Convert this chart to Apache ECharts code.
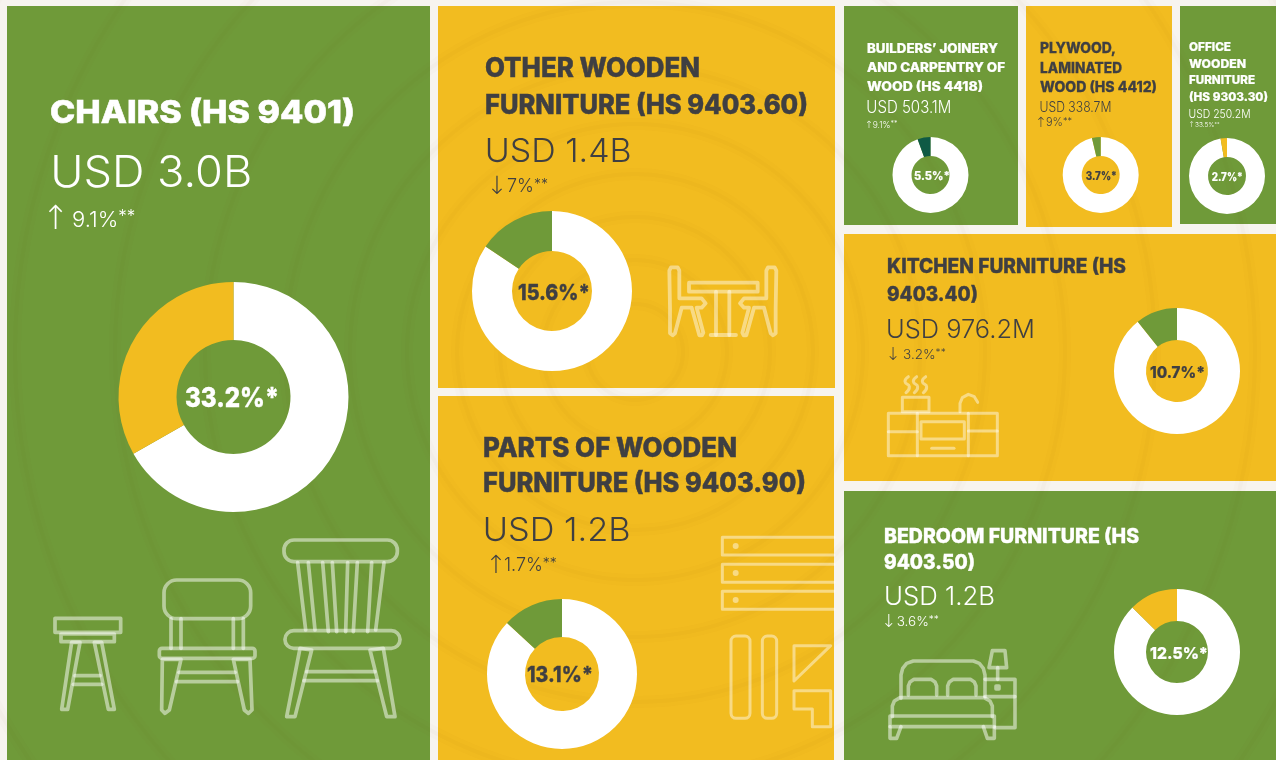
<!DOCTYPE html>
<html><head><meta charset="utf-8">
<style>html,body{margin:0;padding:0;background:#f7f4ef}#c{width:1276px;height:760px}</style>
<script src="https://cdn.jsdelivr.net/npm/echarts@6/dist/echarts.min.js"></script>
</head><body><div id="c"></div>
<script>
// ---- data ----
const products = ['Chairs','Other wooden furniture','Parts of wooden furniture','Builders joinery','Plywood','Office wooden furniture','Kitchen furniture','Bedroom furniture'];
const titleLines = [
  ['CHAIRS (HS 9401)'],
  ['OTHER WOODEN','FURNITURE (HS 9403.60)'],
  ['PARTS OF WOODEN','FURNITURE (HS 9403.90)'],
  ['BUILDERS’ JOINERY','AND CARPENTRY OF','WOOD (HS 4418)'],
  ['PLYWOOD,','LAMINATED','WOOD (HS 4412)'],
  ['OFFICE','WOODEN','FURNITURE','(HS 9303.30)'],
  ['KITCHEN FURNITURE (HS','9403.40)'],
  ['BEDROOM FURNITURE (HS','9403.50)']
];
const valueLabels = ['USD 3.0B','USD 1.4B','USD 1.2B','USD 503.1M','USD 338.7M','USD 250.2M','USD 976.2M','USD 1.2B'];
const changeArrows = ['↑','↓','↑','↑','↑','↑','↓','↓'];
const changeLabels = ['9.1%','7%','1.7%','9.1%','9%','33.5%','3.2%','3.6%'];
const sharePercent = [33.2,15.6,13.1,5.5,3.7,2.7,10.7,12.5];

// ---- colours ----
const GREEN='#6f9a39', YELLOW='#f2bc20', DARK='#3f3f42', TEAL='#0f5a45', PAPER='#f7f4ef';
const panelColor=[GREEN,YELLOW,YELLOW,GREEN,YELLOW,GREEN,YELLOW,GREEN];
const sliceColor=[YELLOW,GREEN,GREEN,TEAL,GREEN,YELLOW,GREEN,YELLOW];

// ---- layout ----
const panels=[[7,6,423,754],[438,6,397,382],[438,396,396,364],[844,6,174,219],[1026,6,146,221],[1180,6,96,218],[844,234,432,247],[844,491,432,269]];
const donuts=[[233.5,397,115,57],[552,291,80,40],[562,674,75,37],[930.5,175,38,19],[1100.7,175,38,19],[1227,176,38,19],[1177,371,63,31],[1177,652,63,31]];
const labelSize=[27,22,21,11.5,11.5,11.5,16.5,16.5];
const labelX=[185,518,527,914,1085.7,1211.7,1150,1150];
const labelW=[94,72,66,36,31,31,55,58];
const textPos=[
 {x:50,ty:[111],tw:[305],ts:31,vx:52,vy:171,vw:202,vs:44,cx:39,cw:33,cy:219,as:33,cs:22,ss:17},
 {x:485,ty:[67,104],tw:[215,323],ts:26.5,vx:486,vy:149,vw:147,vs:33,cx:487,cw:20,cy:186,as:25,cs:18,ss:14},
 {x:483,ty:[447,482],tw:[254,323],ts:26.5,vx:484,vy:528,vw:148,vs:33,cx:488,cw:16,cy:565,as:25,cs:18,ss:14},
 {x:867,ty:[47,66,85],tw:[131,138,116],ts:13,vx:867,vy:106,vw:85,vs:17,cx:865.3,cw:7.4,cy:124,as:10,cs:8.5,ss:7},
 {x:1040,ty:[47,67,86],tw:[76,82,117],ts:14,vx:1040,vy:106,vw:72,vs:14,cx:1036,cw:10,cy:122,as:14,cs:11,ss:9},
 {x:1189,ty:[46,63,79,96],tw:[42,57,66,79],ts:11.8,vx:1189,vy:113,vw:62,vs:12,cx:1188.4,cw:6.6,cy:124,as:8,cs:6.5,ss:5},
 {x:887,ty:[265,293],tw:[239,91],ts:19.5,vx:887,vy:328,vw:149,vs:25.5,cx:883,cw:20,cy:354,as:18,cs:13.5,ss:10},
 {x:884,ty:[535,561],tw:[255,91],ts:19.5,vx:885,vy:595,vw:111,vs:25.5,cx:880.7,cw:16,cy:621,as:18,cs:13.5,ss:10}
];
const ringRadius=[48,92,135,178,228,285,350,430,520,620,730];
const ringCentre=[635,352];

const TITLE_FONT='Inter', LIGHT_FONT='Inter';
const meter=document.createElement('canvas').getContext('2d');
const fitScale=(text,font,target)=>{meter.font=font;return target/meter.measureText(text).width;};

const elements=[];
elements.push({type:'rect',shape:{x:0,y:0,width:1276,height:760},style:{fill:PAPER}});
panels.forEach((p,i)=>elements.push({type:'rect',shape:{x:p[0],y:p[1],width:p[2],height:p[3]},style:{fill:panelColor[i]}}));
// wood-grain rings laid over the panels
ringRadius.forEach((r,i)=>{
  [[12,0.015],[4,0.018]].forEach(w=>elements.push({type:'circle',shape:{cx:ringCentre[0],cy:ringCentre[1],r:r},
    style:{fill:'none',stroke:'rgba(100,65,0,'+w[1]+')',lineWidth:w[0]}}));
});
// texts
products.forEach((name,i)=>{
  const t=textPos[i], col=panelColor[i]===GREEN?'#ffffff':DARK;
  const off=s=>1+0.05*s;
  titleLines[i].forEach((line,k)=>{
    const font=`800 ${t.ts}px ${TITLE_FONT}`;
    elements.push({type:'text',x:t.x,y:t.ty[k]+off(t.ts),scaleX:fitScale(line,font,t.tw[k]),
      style:{text:line,fill:col,font:font,stroke:col,lineWidth:t.ts*0.018,verticalAlign:'middle',align:'left'}});
  });
  const vfont=`300 ${t.vs}px ${LIGHT_FONT}`;
  elements.push({type:'text',x:t.vx-0.04*t.vs,y:t.vy+off(t.vs),scaleX:fitScale(valueLabels[i],vfont,t.vw),
    style:{text:valueLabels[i],fill:col,font:vfont,verticalAlign:'middle',align:'left'}});
  elements.push({type:'text',x:t.cx,y:t.cy+1,style:{text:`{a|${changeArrows[i]}}{b|${changeLabels[i]}}{c|**}`,fill:col,verticalAlign:'middle',align:'left',
    rich:{a:{fontFamily:'DejaVu Sans',fontWeight:200,fontSize:t.as,fill:col,width:t.cw,align:'center'},b:{fontFamily:LIGHT_FONT,fontWeight:300,fontSize:t.cs,fill:col},c:{fontFamily:LIGHT_FONT,fontWeight:300,fontSize:t.ss,fill:col,padding:[0,0,t.cs*0.25,0]}}}});
  // share label in the donut hole
  const lab=sharePercent[i]+'%*', lfont=`800 ${labelSize[i]}px ${TITLE_FONT}`;
  elements.push({type:'text',x:labelX[i],y:donuts[i][1]+off(labelSize[i]),scaleX:fitScale(lab,lfont,labelW[i]),
    style:{text:lab,fill:col,font:lfont,stroke:col,lineWidth:labelSize[i]*0.015,verticalAlign:'middle',align:'left'}});
});

// ---- icons, in 3x crop coordinates ----
function icon(ox,oy,alpha,width,list){
  const X=v=>ox+v/3, Y=v=>oy+v/3;
  const style=(fill)=>({fill:fill?'rgba(255,255,255,'+alpha+')':'none',stroke:fill?'none':'rgba(255,255,255,'+alpha+')',lineWidth:width,lineJoin:'round',lineCap:'round'});
  list.forEach(s=>{
    const k=s[0];
    if(k==='r')elements.push({type:'rect',shape:{x:X(s[1]),y:Y(s[2]),width:(s[3]-s[1])/3,height:(s[4]-s[2])/3,r:(s[5]||0)/3},style:style()});
    if(k==='p'||k==='g'){const pts=[];for(let j=1;j<s.length;j+=2)pts.push([X(s[j]),Y(s[j+1])]);
      elements.push({type:k==='p'?'polyline':'polygon',shape:{points:pts},style:style()});}
    if(k==='c')elements.push({type:'circle',shape:{cx:X(s[1]),cy:Y(s[2]),r:s[3]/3},style:style(true)});
    if(k==='s'){const pts=[];for(let j=1;j<s.length;j+=2)pts.push([X(s[j]),Y(s[j+1])]);
      elements.push({type:'polyline',shape:{points:pts,smooth:0.6},style:style()});}
  });
}
// chairs
icon(0,520,.5,3.7,[
 ['r',165,295,362,337],['r',183,342,343,365],
 ['g',215,367,185,568,203,568,240,367],['g',283,367,325,568,343,568,305,367],
 ['p',225,467,300,467],['p',220,493,305,493],
 ['r',492,180,752,296,38],['p',513,296,513,385],['p',543,296,543,385],['p',700,296,700,385],['p',730,296,730,385],
 ['r',478,385,765,415,8],
 ['g',487,418,485,570,495,580,508,570,543,418],['g',700,418,733,570,745,580,756,570,750,418],
 ['p',537,457,705,457],['p',530,485,712,485],
 ['r',852,60,1192,125,30],
 ['p',893,128,917,330],['p',925,128,945,330],['p',968,128,985,335],['p',997,128,1010,335],['p',1043,128,1037,335],['p',1072,128,1060,335],['p',1115,128,1103,335],['p',1152,128,1127,330],
 ['r',855,332,1200,385,26],
 ['g',900,385,860,590,885,590,935,390],['g',1110,390,1160,590,1185,590,1150,385],
 ['p',920,455,1125,455],['p',912,482,1132,482]
]);
// table and two chairs
const sideChair=(m)=>{const f=v=>m?497-v:v;return ['g',f(88),92,f(93),82,f(113),82,f(118),92,f(118),175,f(185),175,f(197),190,f(185),203,f(170),203,f(190),278,f(186),286,f(178),286,f(155),203,f(125),203,f(105),280,f(98),286,f(90),280,f(90),203];};
icon(640,240,.45,3.8,[sideChair(false),sideChair(true),['r',147,128,353,155],['p',228,155,228,285],['p',268,155,268,285],['p',212,285,288,285]]);
// parts
icon(700,520,.45,3,[
 ['p',402,52,67,52,67,105,402,105],['p',402,133,67,133,67,187,402,187],['p',402,214,67,214,67,268,402,268],
 ['c',107,78,9],['c',107,159,9],['c',107,240,9],
 ['r',93,348,150,595,15],['r',187,348,230,595,15],
 ['g',282,377,392,377,282,483],['g',282,512,392,512,392,620,337,620,337,567,282,567]
]);
// kitchen
icon(640,240,.45,3,[
 ['r',745,520,1072,647],['p',832,520,832,647],['p',985,520,985,647],
 ['p',745,575,832,575],['p',985,573,1072,573],['r',843,545,973,597],['p',875,625,942,625],
 ['r',787,472,867,515],
 ['s',805,410,795,425,808,440,798,458],['s',830,410,820,425,833,440,823,458],['s',857,410,847,425,860,440,850,458],
 ['p',960,515,960,490,967,473,985,463,1003,470,1013,487]
]);
// bed
icon(700,520,.5,3.6,[
 ['p',603,535,603,465,608,445,620,430,640,423,820,423,838,430,850,445,855,465,855,530],
 ['p',625,525,625,498,630,486,642,478,693,478,705,486,710,498,710,525],['p',743,525,743,498,748,486,760,478,811,478,823,486,828,498,828,525],
 ['p',577,590,577,558,583,543,600,533,852,533,870,543,877,558,877,590],
 ['r',570,588,883,620],['p',570,620,570,655,590,655,603,620],['p',850,620,862,655,883,655,883,620],
 ['p',855,478,945,478,945,623,885,623],['p',855,530,945,530],
 ['g',877,392,915,392,920,443,867,443],['p',893,443,893,478],['r',888,498,897,507]
]);

// ---- donuts ----
const series=products.map((name,i)=>({
  type:'pie',name:name,center:[donuts[i][0],donuts[i][1]],radius:[donuts[i][3],donuts[i][2]],
  startAngle:90,clockwise:true,silent:true,avoidLabelOverlap:false,label:{show:false},labelLine:{show:false},
  emphasis:{disabled:true},
  data:[
   {value:+(100-sharePercent[i]).toFixed(1),name:'Rest',itemStyle:{color:'#ffffff'}},
   {value:sharePercent[i],name:name,itemStyle:{color:sliceColor[i]}}
  ]
}));

const chart=echarts.init(document.getElementById('c'),null,{renderer:'canvas'});
chart.setOption({animation:false,backgroundColor:PAPER,graphic:{elements:elements},series:series});
</script></body></html>
